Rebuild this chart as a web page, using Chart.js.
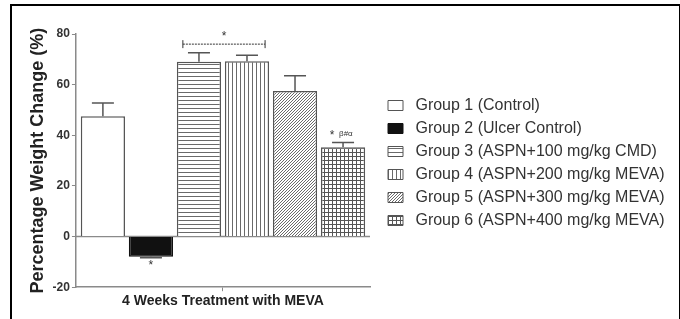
<!DOCTYPE html>
<html>
<head>
<meta charset="utf-8">
<script src="https://cdn.jsdelivr.net/npm/chart.js@4.4.1/dist/chart.umd.min.js"></script>
<style>
  html, body { margin: 0; padding: 0; background: #fff; }
  #wrap { position: relative; width: 680px; height: 319px; }
  #frame {
    position: absolute; left: 10px; top: 4px; width: 667px; height: 320px;
    border-top: 2px solid #000; border-left: 2px solid #000; border-right: 2px solid #000;
    pointer-events: none;
  }
</style>
</head>
<body>
<div id="wrap">
  <canvas id="chart" width="680" height="319"></canvas>
  <div id="frame"></div>
</div>
<script>
// Data
const category = ['4 Weeks Treatment with MEVA'];
const groups = [
    'Group 1 (Control)',
    'Group 2 (Ulcer Control)',
    'Group 3 (ASPN+100 mg/kg CMD)',
    'Group 4 (ASPN+200 mg/kg MEVA)',
    'Group 5 (ASPN+300 mg/kg MEVA)',
    'Group 6 (ASPN+400 mg/kg MEVA)'
];
const means = [47.5, -8, 69, 69.2, 57.5, 35.3];
const errors = [5.2, 0.4, 3.6, 2.4, 6, 1.8];
const yTicks = [-20, 0, 20, 40, 60, 80];

const INK = '#555';
const AXIS = '#8a8a8a';
const FONT = '"Liberation Sans", Arial, sans-serif';

// Fill patterns for the bars
function makePattern(kind) {
    const c = document.createElement('canvas');
    const s = kind === 'diag' ? 3 : 4;
    c.width = s; c.height = s;
    const g = c.getContext('2d');
    g.fillStyle = '#fff';
    g.fillRect(0, 0, s, s);
    g.strokeStyle = kind === 'grid' ? '#555' : '#6a6a6a';
    g.lineWidth = 1;
    g.beginPath();
    if (kind === 'h' || kind === 'grid') { g.moveTo(0, 0.5); g.lineTo(s, 0.5); }
    if (kind === 'v' || kind === 'grid') { g.moveTo(0.5, 0); g.lineTo(0.5, s); }
    if (kind === 'diag') {
        g.moveTo(0, s); g.lineTo(s, 0);
        g.moveTo(-1, 1); g.lineTo(1, -1);
        g.moveTo(s - 1, s + 1); g.lineTo(s + 1, s - 1);
    }
    g.stroke();
    return g.createPattern(c, 'repeat');
}

const fills = ['#fff', '#111', makePattern('h'), makePattern('v'), makePattern('diag'), makePattern('grid')];

// Let the right-hand legend take the room it needs (the layout caps it otherwise)
const legendRoom = {
    id: 'legendRoom',
    afterInit(chart) {
        const lg = chart.legend;
        const orig = lg.update.bind(lg);
        lg.update = (w, h, margins) => {
            orig(400, h, margins);
            lg.width = 310;
        };
    },
    afterLayout(chart) {
        const lg = chart.legend;
        lg.left += 11;
        lg.right += 11;
        lg.top -= 10;
        lg.bottom -= 10;
    }
};

// Zero line, error bars and significance marks
const extras = {
    id: 'extras',
    beforeDatasetsDraw(chart) {
        const { ctx, chartArea, scales } = chart;
        const y0 = scales.y.getPixelForValue(0);
        ctx.save();
        ctx.strokeStyle = AXIS;
        ctx.lineWidth = 1.5;
        ctx.beginPath();
        ctx.moveTo(chartArea.left, y0);
        ctx.lineTo(chartArea.right, y0);
        ctx.stroke();
        ctx.restore();
    },
    afterDatasetsDraw(chart) {
        const { ctx, scales } = chart;
        const y = scales.y;
        ctx.save();
        ctx.strokeStyle = INK;
        ctx.lineWidth = 1.5;
        means.forEach((m, i) => {
            const bar = chart.getDatasetMeta(i).data[0];
            const end = y.getPixelForValue(m + Math.sign(m) * errors[i]);
            ctx.beginPath();
            ctx.moveTo(bar.x, bar.y);
            ctx.lineTo(bar.x, end);
            ctx.moveTo(bar.x - 11, end);
            ctx.lineTo(bar.x + 11, end);
            ctx.stroke();
        });

        // bracket over groups 3 and 4
        const b3 = chart.getDatasetMeta(2).data[0];
        const b4 = chart.getDatasetMeta(3).data[0];
        const x1 = b3.x - b3.width / 2 + 6;
        const x2 = b4.x + b4.width / 2 - 4;
        const yb = y.getPixelForValue(76);
        ctx.lineWidth = 1;
        ctx.strokeStyle = '#333';
        ctx.beginPath();
        ctx.moveTo(x1, yb - 4); ctx.lineTo(x1, yb + 4);
        ctx.moveTo(x2, yb - 4); ctx.lineTo(x2, yb + 4);
        ctx.stroke();
        ctx.setLineDash([2, 1]);
        ctx.beginPath();
        ctx.moveTo(x1, yb); ctx.lineTo(x2, yb);
        ctx.stroke();
        ctx.setLineDash([]);

        ctx.fillStyle = '#333';
        ctx.textAlign = 'center';
        ctx.textBaseline = 'middle';
        ctx.font = '12px ' + FONT;
        ctx.fillText('*', (x1 + x2) / 2, y.getPixelForValue(79));

        const b2 = chart.getDatasetMeta(1).data[0];
        ctx.fillText('*', b2.x, y.getPixelForValue(-11.5));

        const b6 = chart.getDatasetMeta(5).data[0];
        const ys = y.getPixelForValue(40.5);
        ctx.fillText('*', b6.x - 11, ys + 2);
        ctx.font = '8px ' + FONT;
        ctx.textAlign = 'left';
        ctx.fillText('\u03B2#\u03B1', b6.x - 4, ys);
        ctx.restore();
    }
};

const ctx = document.getElementById('chart').getContext('2d');
new Chart(ctx, {
    type: 'bar',
    data: {
        labels: category,
        datasets: groups.map((g, i) => ({
            label: g,
            data: [means[i]],
            backgroundColor: fills[i],
            borderColor: i === 1 ? '#111' : INK,
            borderWidth: 1.5,
            barPercentage: 0.92,
            categoryPercentage: 0.98
        }))
    },
    options: {
        responsive: false,
        animation: false,
        layout: { padding: { left: 25, top: 34, right: 0, bottom: 7 } },
        plugins: {
            legend: {
                position: 'right',
                labels: {
                    boxWidth: 15,
                    boxHeight: 10,
                    padding: 7,
                    color: '#333',
                    font: { family: FONT, size: 16 },
                    generateLabels(chart) {
                        const items = Chart.defaults.plugins.legend.labels.generateLabels(chart);
                        items.forEach(it => { it.text = ' ' + it.text; it.lineWidth = 1; });
                        return items;
                    }
                },
                onClick: null
            },
            tooltip: { enabled: false }
        },
        scales: {
            x: {
                grid: { drawOnChartArea: false, offset: false, tickLength: 4, color: AXIS },
                border: { color: AXIS, width: 1.5 },
                ticks: {
                    color: '#222',
                    padding: 2,
                    font: { family: FONT, size: 14, weight: 'bold' }
                }
            },
            y: {
                min: -20,
                max: 80,
                afterBuildTicks(axis) { axis.ticks = yTicks.map(v => ({ value: v })); },
                grid: { drawOnChartArea: false, tickLength: 4, color: AXIS },
                border: { color: AXIS, width: 1.5 },
                ticks: {
                    color: '#333',
                    padding: 2,
                    font: { family: FONT, size: 12, weight: 'bold' }
                },
                title: {
                    display: true,
                    text: 'Percentage Weight Change (%)',
                    color: '#222',
                    padding: 2,
                    font: { family: FONT, size: 18, weight: 'bold' }
                }
            }
        }
    },
    plugins: [legendRoom, extras]
});
</script>
</body>
</html>
